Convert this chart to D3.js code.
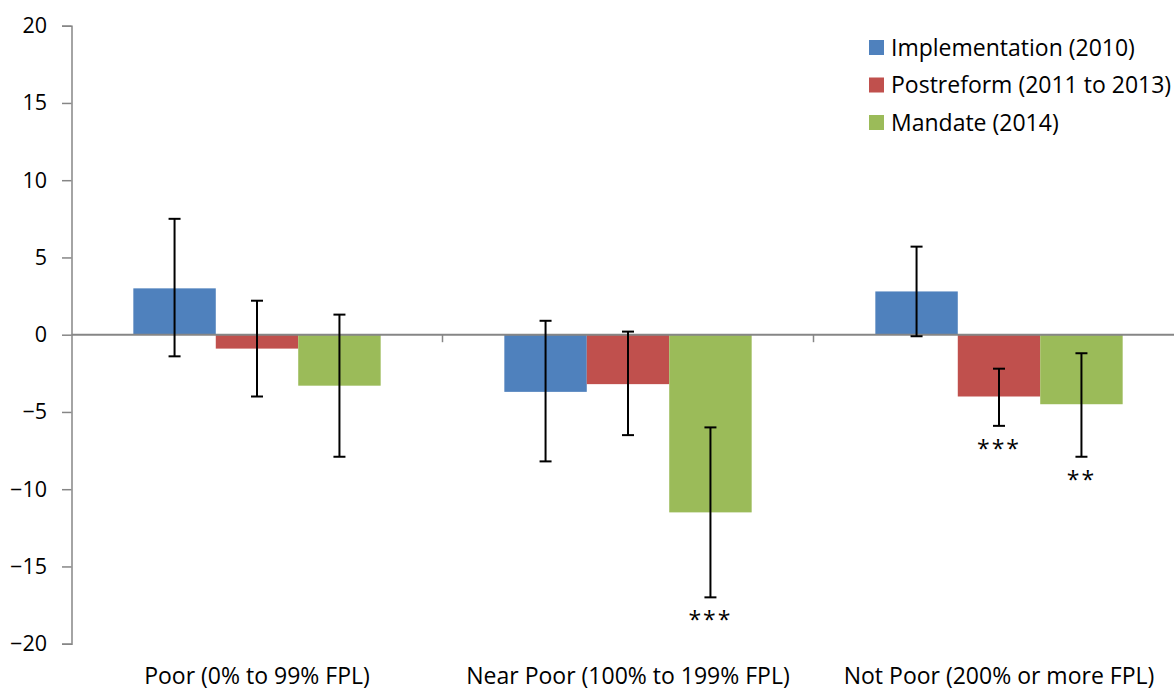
<!DOCTYPE html>
<html>
<head>
<meta charset="utf-8">
<script src="https://cdn.jsdelivr.net/npm/d3@7"></script>
<style>
  html, body { margin: 0; padding: 0; background: #fff; }
  svg { display: block; }
  text { font-family: "Open Sans", "Noto Sans", sans-serif; fill: #000; }
</style>
</head>
<body>
<svg id="chart" width="1174" height="690"></svg>
<script>
// Income groups along the x axis
const categories = ["Poor (0% to 99% FPL)", "Near Poor (100% to 199% FPL)", "Not Poor (200% or more FPL)"];
// Periods shown as grouped bars
const seriesNames = ["Implementation (2010)", "Postreform (2011 to 2013)", "Mandate (2014)"];
const seriesColors = ["#4F81BD", "#C0504D", "#9BBB59"];

// Estimated change per period, one entry per income group
const implementation = [3.0, -3.7, 2.8];
const postreform = [-0.9, -3.2, -4.0];
const mandate = [-3.3, -11.5, -4.5];

// Confidence interval bounds
const implementationLow = [-1.4, -8.2, -0.1];
const implementationHigh = [7.5, 0.9, 5.7];
const postreformLow = [-4.0, -6.5, -5.9];
const postreformHigh = [2.2, 0.2, -2.2];
const mandateLow = [-7.9, -17.0, -7.9];
const mandateHigh = [1.3, -6.0, -1.2];

// Significance markers
const implementationSig = ["", "", ""];
const postreformSig = ["", "", "***"];
const mandateSig = ["", "***", "**"];

const yTicks = [20, 15, 10, 5, 0, -5, -10, -15, -20];

const values = [implementation, postreform, mandate];
const lows = [implementationLow, postreformLow, mandateLow];
const highs = [implementationHigh, postreformHigh, mandateHigh];
const sigs = [implementationSig, postreformSig, mandateSig];

const rows = [];
categories.forEach((c, ci) => {
  seriesNames.forEach((s, si) => {
    rows.push({ cat: c, series: s, si, value: values[si][ci], low: lows[si][ci], high: highs[si][ci], sig: sigs[si][ci] });
  });
});

const svg = d3.select("#chart");
const plotLeft = 71.5, plotTop = 25.7, plotBottom = 643.7;
const bandW = 371;
const plotRight = plotLeft + bandW * categories.length;

const y = d3.scaleLinear().domain([-20, 20]).range([plotBottom, plotTop]);
const x0 = d3.scaleBand().domain(categories).range([plotLeft, plotRight]).paddingInner(0).paddingOuter(0);
const x1 = d3.scaleBand().domain(seriesNames).range([0, x0.bandwidth()]).paddingOuter(0.75).paddingInner(0);

const axisColor = "#868686";
const tickFont = 21.5;
const labelFont = 23;

// Y axis
const yAxis = svg.append("g").attr("transform", `translate(${plotLeft},0)`)
  .call(d3.axisLeft(y).tickValues(yTicks).tickSize(9.5).tickPadding(15).tickFormat(d3.format("d")));
yAxis.select(".domain").attr("stroke", axisColor).attr("stroke-width", 1.5);
yAxis.selectAll(".tick line").attr("stroke", axisColor).attr("stroke-width", 1.5);
yAxis.selectAll(".tick text").style("font-size", tickFont + "px").attr("fill", "#000")
  .style("font-family", '"Open Sans", sans-serif');

// Bars
svg.append("g").selectAll("rect").data(rows).join("rect")
  .attr("x", d => x0(d.cat) + x1(d.series))
  .attr("width", x1.bandwidth())
  .attr("y", d => Math.min(y(d.value), y(0)))
  .attr("height", d => Math.abs(y(d.value) - y(0)))
  .attr("fill", d => seriesColors[d.si]);

// Zero-line category axis
const xAxis = svg.append("g").attr("transform", `translate(0,${y(0)})`);
xAxis.append("line").attr("x1", plotLeft).attr("x2", 1174).attr("y1", 0).attr("y2", 0)
  .attr("stroke", axisColor).attr("stroke-width", 2);
xAxis.selectAll("line.tick").data(categories.slice(1)).join("line").attr("class", "tick")
  .attr("x1", d => x0(d)).attr("x2", d => x0(d)).attr("y1", 0).attr("y2", 7.5)
  .attr("stroke", axisColor).attr("stroke-width", 1.5);

// Category labels
svg.append("g").selectAll("text").data(categories).join("text")
  .attr("x", d => x0(d) + x0.bandwidth() / 2)
  .attr("y", 684)
  .attr("text-anchor", "middle")
  .style("font-size", labelFont + "px")
  .text(d => d);

// Error bars
const cap = 6;
const eb = svg.append("g").attr("stroke", "#000").attr("stroke-width", 2);
rows.forEach(d => {
  const cx = x0(d.cat) + x1(d.series) + x1.bandwidth() / 2;
  eb.append("line").attr("x1", cx).attr("x2", cx).attr("y1", y(d.high)).attr("y2", y(d.low));
  eb.append("line").attr("x1", cx - cap).attr("x2", cx + cap).attr("y1", y(d.high)).attr("y2", y(d.high));
  eb.append("line").attr("x1", cx - cap).attr("x2", cx + cap).attr("y1", y(d.low)).attr("y2", y(d.low));
});

// Significance stars
svg.append("g").selectAll("text").data(rows.filter(d => d.sig)).join("text")
  .attr("x", d => x0(d.cat) + x1(d.series) + x1.bandwidth() / 2)
  .attr("y", d => y(d.low) + 31)
  .attr("text-anchor", "middle")
  .style("font-size", labelFont + "px")
  .style("letter-spacing", "2px")
  .text(d => d.sig);

// Legend
const legend = svg.append("g").attr("transform", "translate(869,40)");
seriesNames.forEach((s, i) => {
  const g = legend.append("g").attr("transform", `translate(0,${i * 37.5})`);
  g.append("rect").attr("width", 15).attr("height", 15).attr("fill", seriesColors[i]);
  g.append("text").attr("x", 22).attr("y", 15.5).style("font-size", labelFont + "px").text(s);
});
</script>
</body>
</html>
